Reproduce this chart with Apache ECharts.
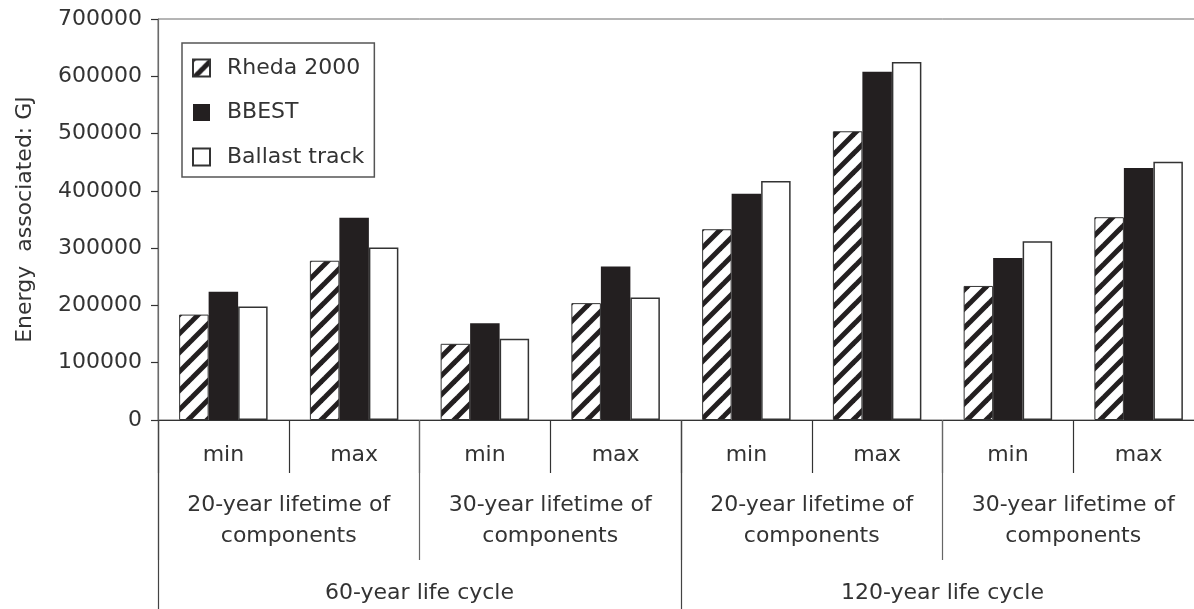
<!DOCTYPE html>
<html>
<head>
<meta charset="utf-8">
<script src="https://cdn.jsdelivr.net/npm/echarts@6/dist/echarts.min.js"></script>
<style>
html,body{margin:0;padding:0;background:#fff;overflow:hidden;width:1194px;height:609px;}
#chart{width:1204px;height:609px;}
</style>
</head>
<body>
<div id="chart"></div>
<script>
// ---- data ----
const subCategories = ['min', 'max', 'min', 'max', 'min', 'max', 'min', 'max'];
const lifetimeCategories = [
  '20-year lifetime of\ncomponents', '30-year lifetime of\ncomponents',
  '20-year lifetime of\ncomponents', '30-year lifetime of\ncomponents'
];
const cycleCategories = ['60-year life cycle', '120-year life cycle'];
const seriesNames = ['Rheda 2000', 'BBEST', 'Ballast track'];
const rheda2000 = [184000, 278000, 133000, 204000, 333000, 504000, 234000, 354000];
const bbest = [224000, 353000, 169000, 268000, 395000, 608000, 283000, 440000];
const ballastTrack = [198000, 301000, 142000, 214000, 417000, 625000, 312000, 451000];
const yTicks = { min: 0, max: 700000, interval: 100000 };
const yAxisName = 'Energy  associated: GJ';

// ---- hatch pattern ----
function makeHatch() {
  const s = 19;
  const c = document.createElement('canvas');
  c.width = s; c.height = s;
  const ctx = c.getContext('2d');
  ctx.fillStyle = '#ffffff';
  ctx.fillRect(0, 0, s, s);
  ctx.strokeStyle = '#231f20';
  ctx.lineWidth = 5;
  ctx.lineCap = 'square';
  [-s, 0, s].forEach(function (k) {
    ctx.beginPath();
    ctx.moveTo(k - 4, s + 4);
    ctx.lineTo(k + s + 4, -4);
    ctx.stroke();
  });
  return c;
}

const FONT = 'DejaVu Sans';
const TXT = '#333333';
const chart = echarts.init(document.getElementById('chart'), null, { renderer: 'canvas' });

const option = {
  animation: false,
  backgroundColor: '#ffffff',
  textStyle: { fontFamily: FONT },
  grid: {
    left: 158, top: 19, right: 0, bottom: 189,
    show: true, borderColor: '#6a6a6a', borderWidth: 1, backgroundColor: 'transparent'
  },
  legend: {
    orient: 'vertical',
    left: 182, top: 43,
    padding: [14, 10, 9, 10],
    borderColor: '#555555', borderWidth: 1.5,
    itemWidth: 17, itemHeight: 17, itemGap: 22.5,
    icon: 'rect',
    textStyle: { fontFamily: FONT, fontSize: 22, color: TXT, padding: [0, 0, 0, 12] },
    data: seriesNames
  },
  xAxis: [
    {
      type: 'category', gridIndex: 0, position: 'bottom', data: subCategories,
      axisLine: { show: true, lineStyle: { color: '#333', width: 1.2 } },
      axisTick: { show: true, interval: 0, length: 53, lineStyle: { color: '#333', width: 1.2 } },
      axisLabel: { interval: 0, margin: 24, fontFamily: FONT, fontSize: 22, color: TXT }
    },
    {
      type: 'category', gridIndex: 0, position: 'bottom', data: lifetimeCategories,
      axisLine: { show: false },
      axisTick: { show: true, interval: 0, length: 140, lineStyle: { color: '#666', width: 1.2 } },
      axisLabel: { interval: 0, margin: 70, fontFamily: FONT, fontSize: 22, lineHeight: 31, color: TXT }
    },
    {
      type: 'category', gridIndex: 0, position: 'bottom', data: cycleCategories,
      axisLine: { show: false },
      axisTick: { show: true, interval: 0, length: 200, lineStyle: { color: '#444', width: 1.2 } },
      axisLabel: { interval: 0, margin: 162, fontFamily: FONT, fontSize: 22, color: TXT }
    }
  ],
  yAxis: {
    type: 'value', min: yTicks.min, max: yTicks.max, interval: yTicks.interval,
    name: yAxisName, nameLocation: 'middle', nameGap: 122, nameRotate: 90,
    nameTextStyle: { fontFamily: FONT, fontSize: 22, color: TXT },
    axisLine: { show: true, lineStyle: { color: '#6a6a6a', width: 1.2 } },
    axisTick: { show: true, length: 7, lineStyle: { color: '#333', width: 1.2 } },
    axisLabel: {
      margin: 16, fontFamily: FONT, fontSize: 22, color: TXT,
      formatter: function (v) { return String(v); }
    },
    splitLine: { show: false }
  },
  series: [
    {
      name: seriesNames[0], type: 'bar', xAxisIndex: 0, data: rheda2000,
      barWidth: 29.5, barGap: '0%',
      itemStyle: { color: { image: makeHatch(), repeat: 'repeat' }, borderColor: '#333', borderWidth: 1 }
    },
    {
      name: seriesNames[1], type: 'bar', xAxisIndex: 0, data: bbest,
      barWidth: 29.5, barGap: '0%',
      itemStyle: { color: '#231f20', borderColor: '#231f20', borderWidth: 0 }
    },
    {
      name: seriesNames[2], type: 'bar', xAxisIndex: 0, data: ballastTrack,
      barWidth: 29.5, barGap: '0%',
      itemStyle: { color: '#ffffff', borderColor: '#333', borderWidth: 1.5 }
    }
  ]
};
chart.setOption(option);
</script>
</body>
</html>
